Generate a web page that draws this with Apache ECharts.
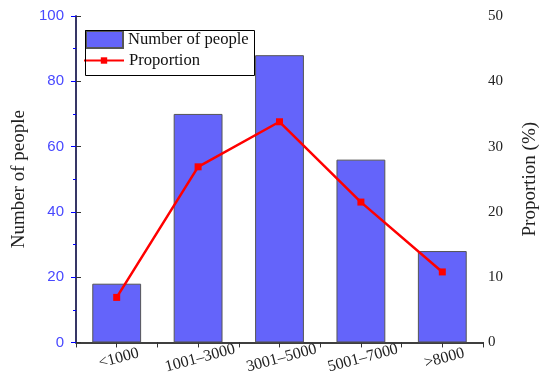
<!DOCTYPE html>
<html>
<head>
<meta charset="utf-8">
<script src="https://cdn.jsdelivr.net/npm/echarts@6/dist/echarts.min.js"></script>
<style>html,body{margin:0;padding:0;background:#fff}#c{width:549px;height:376px}</style>
</head>
<body>
<div id="c"></div>
<script>
const categories = ['<1000', '1001–3000', '3001–5000', '5001–7000', '>8000'];
const people = [18, 70, 88, 56, 28];
const proportion = [6.9, 26.9, 33.8, 21.5, 10.8];
const leftTicks = [0, 20, 40, 60, 80, 100];
const rightTicks = [0, 10, 20, 30, 40, 50];

const serif = '"Liberation Serif","Times New Roman",serif';
const chart = echarts.init(document.getElementById('c'));
chart.setOption({
  animation: false,
  backgroundColor: '#fff',
  grid: {left: 76, right: 66, top: 16, bottom: 33},
  legend: [
    {data: [{name: 'Number of people', icon: 'rect'}], left: 85, top: 30, padding: 0, itemWidth: 37, itemHeight: 17, itemGap: 5,
     textStyle: {fontFamily: serif, fontSize: 16.6, color: '#111'}},
    {data: ['Proportion'], left: 83, top: 52, padding: 0, itemWidth: 40, itemHeight: 8, itemGap: 4,
     textStyle: {fontFamily: serif, fontSize: 16.6, color: '#111'}}
  ],
  graphic: [{type: 'rect', left: 83, top: 28, shape: {width: 169, height: 45},
    style: {fill: 'none', stroke: '#000', lineWidth: 1}, z: 100}],
  xAxis: [
    {type: 'category', data: categories, position: 'bottom',
     axisLine: {lineStyle: {color: '#333', width: 1.5}},
     axisTick: {alignWithLabel: true, inside: false, length: 5, lineStyle: {color: '#333'}},
     axisLabel: {rotate: 15, align: 'center', verticalAlign: 'top', fontFamily: serif, fontSize: 16, color: '#222', margin: 8, interval: 0}},
    {type: 'value', position: 'top', min: 0, max: 5, interval: 0.5,
     axisLine: {show: true, lineStyle: {color: '#333', width: 1.5}},
     axisTick: {show: true, inside: true, length: 5, lineStyle: {color: '#333'}},
     axisLabel: {show: false}, splitLine: {show: false}},
    {type: 'value', position: 'bottom', min: 0, max: 5, interval: 1,
     axisLine: {show: false},
     axisTick: {show: true, inside: false, length: 2, lineStyle: {color: '#333'}},
     axisLabel: {show: false}, splitLine: {show: false}}
  ],
  yAxis: [
    {type: 'value', min: leftTicks[0], max: leftTicks[leftTicks.length - 1], interval: 20, position: 'left',
     name: 'Number of people', nameLocation: 'middle', nameGap: 43, nameRotate: 90,
     nameTextStyle: {fontFamily: serif, fontSize: 19, color: '#222'},
     axisLine: {show: true, lineStyle: {color: '#0000ff', width: 1.5}},
     axisTick: {show: true, inside: false, length: 5, lineStyle: {color: '#0000ff'}},
     minorTick: {show: true, splitNumber: 2, length: 3, lineStyle: {color: '#0000ff'}},
     axisLabel: {fontFamily: '"Liberation Sans",Arial,sans-serif', fontSize: 15, color: '#4848ff', margin: 12},
     splitLine: {show: false}},
    {type: 'value', min: rightTicks[0], max: rightTicks[rightTicks.length - 1], interval: 10, position: 'right',
     name: 'Proportion (%)', nameLocation: 'middle', nameGap: 38, nameRotate: 90,
     nameTextStyle: {fontFamily: serif, fontSize: 19, color: '#222'},
     axisLine: {show: true, lineStyle: {color: '#333', width: 1.5}},
     axisTick: {show: true, inside: false, length: 5, lineStyle: {color: '#333'}},
     axisLabel: {fontFamily: serif, fontSize: 15, color: '#222', margin: 5},
     splitLine: {show: false}}
  ],
  series: [
    {name: 'Number of people', type: 'bar', data: people, barWidth: '60%', xAxisIndex: 0, yAxisIndex: 0,
     itemStyle: {color: '#6464fa', borderColor: '#555', borderWidth: 1}},
    {name: 'Proportion', type: 'line', data: proportion, xAxisIndex: 0, yAxisIndex: 1,
     symbol: 'rect', symbolSize: 7, lineStyle: {color: '#ff0000', width: 2.5},
     itemStyle: {color: '#ff0000'}, z: 5}
  ]
});
</script>
</body>
</html>
